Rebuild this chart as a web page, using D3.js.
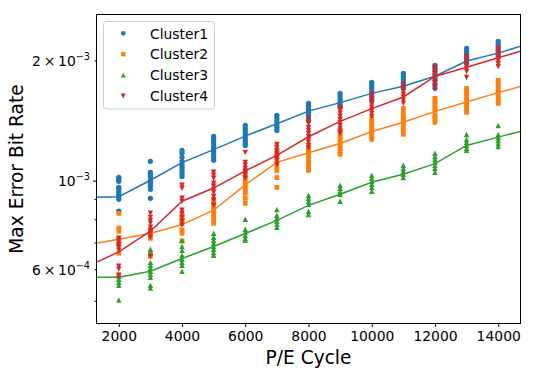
<!DOCTYPE html>
<html>
<head>
<meta charset="utf-8">
<script src="https://cdn.jsdelivr.net/npm/d3@7"></script>
<style>
  body { margin: 0; background: #ffffff; }
  svg { display: block; font-family: "DejaVu Sans", sans-serif; }
</style>
</head>
<body>
<div id="chart"></div>
<script>
// P/E cycles where the blocks were measured
const cycles = [2000, 3000, 4000, 5000, 6000, 7000, 8000, 9000, 10000, 11000, 12000, 13000, 14000];

// Max error bit rate (x 1e-4), one list of samples per P/E cycle
const cluster1 = [
  [10.19, 10.08, 9.96, 9.62, 9.51, 9.35, 9.24, 9.13, 8.98, 8.38],
  [11.18, 10.49, 10.37, 10.24, 10.02, 9.85, 9.68, 9.51, 9.03],
  [11.91, 11.71, 11.44, 11.18, 10.98, 10.79, 10.61, 10.43, 10.24],
  [12.90, 12.68, 12.47, 12.25, 12.05, 11.84, 11.64, 11.44, 11.24],
  [13.75, 13.51, 13.28, 13.05, 12.83, 12.61, 12.39, 12.25],
  [14.57, 14.31, 14.07, 13.82, 13.59, 13.36],
  [15.62, 15.35, 15.09, 14.83, 14.57, 14.31, 14.15],
  [16.54, 16.26, 15.98, 15.71, 15.44, 15.26],
  [17.62, 17.31, 17.03, 16.73, 16.44, 16.17, 15.89],
  [18.56, 18.24, 17.92, 17.62, 17.31, 17.03],
  [19.43, 19.10, 18.77, 18.45, 18.13, 17.82, 17.41, 17.03],
  [21.44, 21.07, 20.70, 20.35, 20.00, 19.66],
  [22.31, 21.92, 21.56, 21.19, 20.83, 20.46]
];
const cluster2 = [
  [8.28, 7.60, 7.47, 7.17, 7.05, 6.92, 6.58],
  [7.51, 7.42, 7.34, 7.25, 7.17, 6.58, 6.46],
  [8.23, 8.09, 7.95, 7.82, 7.51, 7.38, 7.05],
  [8.98, 8.77, 8.57, 8.43, 8.28, 8.09, 7.95, 7.82],
  [10.61, 10.37, 10.14, 9.96, 9.79, 9.62, 9.46, 9.29, 9.03, 8.77],
  [11.98, 11.71, 11.50, 11.31, 11.11, 10.85, 10.61, 10.18, 9.62],
  [12.11, 11.91, 11.71, 11.50, 11.31, 11.11, 10.92, 10.73, 10.61],
  [13.36, 13.13, 12.90, 12.68, 12.47, 12.25, 12.05, 11.84, 11.64],
  [14.31, 14.07, 13.82, 13.59, 13.36, 13.13, 12.90, 12.68],
  [15.17, 14.91, 14.66, 14.40, 14.15, 13.91, 13.59, 13.28, 13.05],
  [16.07, 15.80, 15.53, 15.26, 15.00, 14.57, 14.31, 13.99],
  [17.03, 16.73, 16.44, 16.17, 15.89, 15.53, 15.17, 14.83],
  [17.82, 17.51, 17.21, 16.93, 16.64, 16.26, 15.89, 15.62]
];
const cluster3 = [
  [5.83, 5.76, 5.66, 5.56, 5.47, 5.02],
  [6.73, 6.58, 6.24, 6.14, 6.03, 5.93, 5.83, 5.73, 5.47, 5.38],
  [7.09, 6.84, 6.69, 6.50, 6.35, 6.24, 6.14, 5.93],
  [7.38, 7.21, 7.09, 6.97, 6.84, 6.73, 6.61, 6.50],
  [8.00, 7.55, 7.42, 7.30, 7.17, 7.09],
  [8.47, 8.19, 8.05, 7.91, 7.77, 7.64],
  [9.19, 9.03, 8.88, 8.72, 8.38, 8.23],
  [9.74, 9.57, 9.40, 9.24, 8.88],
  [10.31, 10.14, 9.96, 9.79, 9.62, 9.40],
  [10.92, 10.73, 10.55, 10.37, 10.18],
  [11.71, 11.50, 11.31, 11.11, 10.92, 10.73, 10.49],
  [13.05, 12.68, 12.47, 12.25, 12.05, 11.91],
  [13.75, 13.05, 12.83, 12.61, 12.39, 12.17]
];
const cluster4 = [
  [7.17, 7.05, 6.92, 6.81, 6.69, 6.10, 6.00, 5.79, 5.73],
  [8.28, 8.09, 7.95, 7.82, 7.64, 7.51, 7.38, 7.21, 6.46],
  [9.74, 9.57, 9.03, 8.88, 8.43, 8.28, 8.09, 7.91, 7.73],
  [10.49, 10.31, 10.14, 9.85, 9.68, 9.51, 9.35, 9.13, 8.93, 8.67],
  [11.77, 11.11, 10.92, 10.73, 10.55, 10.37, 10.14],
  [12.32, 12.11, 11.84, 11.64, 11.44, 11.24, 10.98],
  [14.31, 13.91, 13.59, 13.36, 13.13, 12.90, 12.68, 12.47, 12.25, 12.05],
  [15.26, 15.00, 14.74, 14.48, 14.23, 13.99, 13.75, 13.51, 13.28, 13.13],
  [16.44, 16.07, 15.80, 15.53, 15.26, 15.00, 14.74, 14.48],
  [17.41, 17.03, 16.73, 16.44, 16.17, 15.89, 15.62],
  [19.21, 18.88, 18.56, 18.24, 17.92, 17.62, 17.31, 17.03],
  [20.46, 20.12, 19.77, 19.43, 19.10, 18.77, 18.13],
  [21.44, 21.07, 20.70, 20.35, 20.00, 19.66, 19.31]
];

// fitted curves (x 1e-4), they run past the measured cycles
const fitCycles = [1000, 2000, 3000, 4000, 5000, 6000, 7000, 8000, 9000, 10000, 11000, 12000, 13000, 14000, 15000];
const fit1 = [9.07, 9.11, 10.02, 11.09, 11.96, 12.93, 13.88, 14.93, 15.68, 16.54, 17.23, 18.26, 19.94, 20.86, 22.08];
const fit2 = [6.90, 7.13, 7.37, 7.76, 8.43, 9.76, 11.11, 11.74, 12.39, 13.28, 14.01, 14.91, 15.73, 16.61, 17.47];
const fit3 = [5.73, 5.73, 5.93, 6.38, 6.84, 7.37, 7.95, 8.67, 9.24, 9.91, 10.37, 11.03, 12.25, 12.85, 13.47];
const fit4 = [6.09, 6.63, 7.47, 8.88, 9.58, 10.58, 11.57, 12.88, 14.07, 15.15, 16.20, 18.24, 19.24, 20.31, 21.45];

const clusterNames = ["Cluster1", "Cluster2", "Cluster3", "Cluster4"];

// ticks
const xTicks = [2000, 4000, 6000, 8000, 10000, 12000, 14000];
const yTicks = [5, 6, 7, 8, 9, 10, 20];
const yTickLabels = { 6: ["6\u2009×\u200910", "\u22124"], 10: ["10", "\u22123"], 20: ["2\u2009×\u200910", "\u22123"] };

//---------------------------------------------------------------------------------------

const width = 536;
const height = 375;
const margin = { left: 96.5, right: 15.5, top: 14.5, bottom: 51.5 };

const colors = ["#1f77b4", "#ff7f0e", "#2ca02c", "#d62728"];

// matplotlib-like markers : o, s, ^, v
const markerTypes = [
  d3.symbolCircle,
  { draw(ctx, size) { const r = Math.sqrt(size) / 2; ctx.rect(-r, -r, 2 * r, 2 * r); } },
  { draw(ctx, size) { const r = Math.sqrt(size) / 2; ctx.moveTo(0, -r); ctx.lineTo(r, r); ctx.lineTo(-r, r); ctx.closePath(); } },
  { draw(ctx, size) { const r = Math.sqrt(size) / 2; ctx.moveTo(0, r); ctx.lineTo(r, -r); ctx.lineTo(-r, -r); ctx.closePath(); } }
];
const markerSizes = [22, 23, 30, 30];

const svg = d3.select("#chart")
  .append("svg")
  .attr("width", width)
  .attr("height", height);

//---------------------------------------------------------------------------------------

// scales
const x = d3.scaleLinear()
  .domain([1295, 14705])
  .range([margin.left, width - margin.right]);

const y = d3.scaleLog()
  .domain([4.386, 26.07])
  .range([height - margin.bottom, margin.top]);

//---------------------------------------------------------------------------------------

// axes
const xAxis = g => g
  .attr("transform", `translate(0, ${height - margin.bottom})`)
  .call(d3.axisBottom(x).tickValues(xTicks).tickSize(3.5).tickPadding(4.2).tickFormat(d3.format("d")))
  .call(g => g.select(".domain").remove())
  .call(g => g.selectAll(".tick line").attr("stroke", "#000"))
  .call(g => g.selectAll(".tick text")
    .attr("font-family", "DejaVu Sans")
    .attr("font-size", "13.9px")
    .attr("fill", "#000"));

const yAxis = g => g
  .attr("transform", `translate(${margin.left}, 0)`)
  .call(d3.axisLeft(y).tickValues(yTicks).tickFormat(() => ""))
  .call(g => g.select(".domain").remove())
  .call(g => g.selectAll(".tick line")
    .attr("x2", d => d === 10 ? -3.5 : -2)
    .attr("stroke", "#000"))
  .call(g => g.selectAll(".tick text").each(function (d) {
    const lbl = yTickLabels[d];
    if (!lbl) return;
    const t = d3.select(this)
      .attr("x", -6.5)
      .attr("dy", null)
      .attr("y", 5.3)
      .attr("text-anchor", "end")
      .attr("font-family", "DejaVu Sans")
      .attr("font-size", "13.9px")
      .attr("fill", "#000");
    t.append("tspan").text(lbl[0]);
    t.append("tspan").attr("dy", -6.3).attr("font-size", "9.7px").text(lbl[1]);
  }));

svg.append("g").call(xAxis);
svg.append("g").call(yAxis);

//---------------------------------------------------------------------------------------

// clip for the fitted lines
svg.append("clipPath")
  .attr("id", "plot-area")
  .append("rect")
  .attr("x", margin.left)
  .attr("y", margin.top)
  .attr("width", width - margin.left - margin.right)
  .attr("height", height - margin.top - margin.bottom);

const line = d3.line()
  .x(d => x(d.x))
  .y(d => y(d.y));

const clusters = [cluster1, cluster2, cluster3, cluster4];
const fits = [fit1, fit2, fit3, fit4];

const plot = svg.append("g").attr("clip-path", "url(#plot-area)");

clusters.forEach((cl, k) => {
  const points = cycles.flatMap((c, i) => cl[i].map(v => ({ x: c, y: v })));

  plot.append("g")
    .selectAll("path")
    .data(points)
    .join("path")
    .attr("d", d3.symbol(markerTypes[k], markerSizes[k]))
    .attr("transform", d => `translate(${x(d.x)}, ${y(d.y)})`)
    .attr("fill", colors[k]);

  const fitData = fitCycles.map((c, i) => ({ x: c, y: fits[k][i] }));
  plot.append("path")
    .datum(fitData)
    .attr("d", line)
    .attr("fill", "none")
    .attr("stroke", colors[k])
    .attr("stroke-width", 1.5);
});

// frame
svg.append("rect")
  .attr("x", margin.left)
  .attr("y", margin.top)
  .attr("width", width - margin.left - margin.right)
  .attr("height", height - margin.top - margin.bottom)
  .attr("fill", "none")
  .attr("stroke", "#000")
  .attr("stroke-width", 1);

//---------------------------------------------------------------------------------------

// axis titles
svg.append("text")
  .attr("x", (margin.left + width - margin.right) / 2)
  .attr("y", 363.5)
  .attr("text-anchor", "middle")
  .attr("font-size", "18.6px")
  .text("P/E Cycle");

svg.append("text")
  .attr("transform", `translate(23, ${(margin.top + height - margin.bottom) / 2}) rotate(-90)`)
  .attr("text-anchor", "middle")
  .attr("font-size", "18.6px")
  .text("Max Error Bit Rate");

//---------------------------------------------------------------------------------------

// legend
const legend = svg.append("g");

legend.append("rect")
  .attr("x", 103.5)
  .attr("y", 21.5)
  .attr("width", 111)
  .attr("height", 87.5)
  .attr("rx", 3)
  .attr("fill", "#ffffff")
  .attr("fill-opacity", 0.8)
  .attr("stroke", "#cccccc")
  .attr("stroke-width", 1);

const rows = legend.selectAll("g.row")
  .data(clusterNames)
  .join("g")
  .attr("class", "row")
  .attr("transform", (d, i) => `translate(0, ${33.3 + i * 20.9})`);

rows.append("path")
  .attr("d", (d, i) => d3.symbol(markerTypes[i], markerSizes[i] * 0.8)())
  .attr("transform", "translate(123.3, 0)")
  .attr("fill", (d, i) => colors[i]);

rows.append("text")
  .attr("x", 150)
  .attr("y", 5.2)
  .attr("font-size", "13.9px")
  .text(d => d);
</script>
</body>
</html>
